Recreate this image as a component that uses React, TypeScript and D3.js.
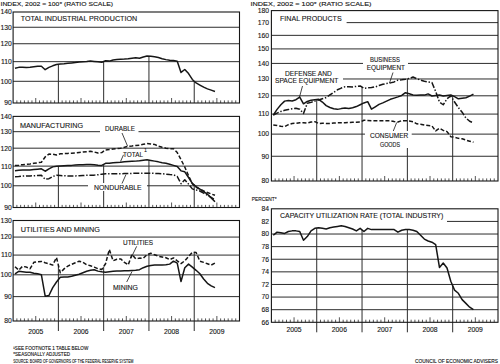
import React from 'react';
import * as d3 from 'd3';

// ---------- DATA (monthly, Jan 2005 – Jun 2009; one row per year) ----------
const years = ['2005', '2006', '2007', '2008', '2009'];

const totalIP = [
  106.5, 107, 107, 106.9, 107, 107.3, 107.6, 107.6, 105.8, 107, 107.8, 108.5,
  108.8, 108.9, 109.1, 109.3, 109.5, 109.8, 110, 110.1, 110.3, 110.1, 109.9, 109.7,
  110.5, 110.3, 110.9, 111.1, 111.3, 111.4, 111.6, 111.9, 112.1, 111.8, 112.5, 113.1,
  112.9, 112.6, 112.2, 111.6, 111.1, 110.8, 110.6, 110.2, 104.4, 105.9, 103.8, 100.9,
  99.2, 98.2, 97.2, 96.4, 95.8, 95.2,
];

const mfgDurable = [
  110.3, 110.5, 110.8, 111, 111.2, 111.5, 111.8, 112.1, 115, 116.6, 116.5, 116.1,
  116.8, 116.9, 117, 117.1, 117.2, 117.5, 117.8, 118, 118.2, 117.8, 117.2, 117.5,
  119, 119.2, 119.5, 119.7, 120, 120.5, 121.1, 121.3, 121.6, 121.8, 122.3, 122.7,
  122.5, 122.2, 121.2, 120.5, 120, 119.7, 119.7, 117.5, 113.5, 109.5, 105, 101,
  99.3, 98.4, 97.5, 96.8, 96.1, 95.5,
];

const mfgTotal = [
  107.6, 107.8, 107.9, 108, 108, 108.2, 108.4, 108.6, 107.3, 108.5, 109.6, 109.9,
  110.1, 110.2, 110.3, 110.4, 110.6, 110.7, 110.8, 110.9, 110.9, 110.7, 110.5, 110.4,
  111.5, 111.6, 111.8, 112, 112.1, 112.3, 112.5, 112.6, 112.7, 112.9, 113.2, 113.5,
  113.1, 112.7, 112.3, 111.8, 111.5, 111, 110.4, 109.8, 107.5, 107, 104.1, 101.2,
  99.6, 98.4, 97.2, 96, 94.3, 92.5,
];

const mfgNondurable = [
  104.5, 104.6, 104.8, 104.9, 104.9, 105, 105.1, 105.2, 103.2, 103.5, 104.6, 105.2,
  105.1, 105, 104.9, 104.9, 104.9, 105, 105.1, 105.2, 105.2, 105.3, 105.5, 105.8,
  106, 106, 106, 106, 106, 106.1, 106.1, 106.2, 106.2, 106.2, 106.3, 106.3,
  106.3, 106.2, 106.1, 106, 105.8, 105.6, 105.5, 104.6, 101, 103, 100.8, 98.5,
  98, 97.5, 96.5, 95.5, 94.5, 93.5,
];

const utilities = [
  104, 102.3, 104.2, 103.8, 103, 106.2, 106.5, 106.7, 106, 105.5, 104.8, 108.7,
  101, 102.9, 104.3, 105.2, 106, 106.8, 106.2, 105, 104.5, 103.8, 103, 102.6,
  105.5, 113, 107, 107.8, 108, 106.2, 104.9, 110.3, 108, 108.4, 108.3, 110.2,
  111, 110.2, 109.4, 109, 108.6, 107.6, 108.5, 107, 105.6, 107, 109.3, 111.5,
  111.4, 106.8, 106.2, 105.5, 104.8, 105.8,
];

const mining = [
  100.5, 101.7, 101.5, 101.3, 101.2, 100.8, 100.5, 100, 90.2, 90.5, 94, 96.6,
  98.8, 99, 99, 99.3, 99.8, 100.3, 101, 101.7, 102.2, 102.5, 101.8, 101.5,
  101.3, 101.5, 101.7, 101.9, 101.9, 102, 102, 102.1, 102.2, 102.5, 103.5, 104.2,
  104.6, 104.8, 104.9, 104.9, 105, 105.3, 106.8, 105.8, 96.8, 103.5, 105.3, 103.8,
  102.2, 100.5, 98, 96, 94.8, 94,
];

const defenseSpace = [
  109.5, 112.5, 115, 117, 117.3, 117.1, 117.8, 119.3, 115.5, 116.8, 117.5, 117.8,
  118, 116.5, 114.5, 113.5, 112.8, 112.5, 112.9, 113.2, 113, 113.4, 114, 115,
  116, 116.7, 112.6, 113.9, 115.2, 116, 117, 118, 118.7, 119.4, 120.2, 121.8,
  121.2, 120.5, 120.3, 120.5, 120.4, 121.1, 119.9, 120.2, 120.5, 119.9, 120.2, 120.5,
  119.5, 118.3, 118.6, 118.9, 119.8, 121,
];

const businessEquip = [
  109.5, 110.5, 111.4, 112, 112.4, 112.8, 113.1, 112.6, 110.3, 115.8, 116.3, 117,
  117.6, 118.3, 119, 120.5, 122, 123.5, 124.5, 125.3, 125.3, 125.2, 125.5, 125.8,
  124.3, 124.6, 124.8, 125.2, 126, 126.8, 127.2, 127.6, 128.2, 129.3, 129.5, 129.8,
  130.3, 131.2, 130.2, 129.3, 128.6, 128.2, 127.8, 122.5, 116.5, 115, 118.3, 120,
  116.5, 113.5, 111, 108, 106.3, 105.5,
];

const consumerGoods = [
  104.4, 104.2, 103.8, 103.6, 104.6, 105.2, 105.3, 105.5, 105.6, 105.4, 105.9, 106.1,
  105.2, 105.3, 105.2, 105.2, 105.4, 105.5, 105.6, 105.6, 105.7, 105.8, 105.8, 105.9,
  106.8, 106.7, 106.6, 106.6, 106.6, 106.6, 106.6, 106.6, 106.2, 105.9, 106.6, 106.6,
  106.4, 106.1, 105, 104.8, 104.4, 104.2, 104, 101.5, 102.8, 101.8, 101.2, 98.8,
  98.5, 98, 97.8, 97.2, 96.7, 96.2,
];

const capacityUtil = [
  79.8, 80.3, 80.2, 80.1, 80.4, 80.5, 80.5, 80.4, 79, 79.6, 80.5, 80.9,
  81, 80.9, 80.8, 81, 81.1, 81.2, 81.3, 81.2, 81, 80.8, 80.5, 80.9,
  80.4, 80.9, 80.7, 80.7, 80.7, 80.7, 80.7, 80.7, 80.7, 80.3, 80.6, 80.7,
  80.7, 80.6, 80.4, 79.8, 79.2, 78.9, 78.7, 78.3, 74.7, 75.4, 74.6, 72.5,
  71.1, 70.6, 69.6, 69, 68.4, 68,
];

const ticksIP = [90, 100, 110, 120, 130, 140];
const ticksUM = [80, 90, 100, 110, 120, 130];
const ticksFP = [80, 90, 100, 110, 120, 130, 140, 150, 160, 170, 180];
const ticksCU = [66, 68, 70, 72, 74, 76, 78, 80, 82, 84];

// ---------- STYLE ----------
const FONT = "'Liberation Sans', Arial, Helvetica, sans-serif";
const INK = '#161616';
const GRID = '#2c2c2c';
const DASH = '4 2';
const DASHDOT = '6 1.8 1.4 1.8';
const MONTHS = 60;

type Series = { values: number[]; dash?: string };
type PanelDef = {
  x: d3.ScaleLinear<number, number>;
  y: any;
  ticks: number[];
  series: Series[];
  guide: number[][];
  below?: boolean;
  labelX: number;
  boxes: { x: number; y: number; w: number; h: number }[];
};

const xLeft = d3.scaleLinear().domain([0, MONTHS]).range([13.1, 239.5]);
const xRight = d3.scaleLinear().domain([0, MONTHS]).range([271.4, 498]);

function T(props: {
  x: number; y: number; w?: number; size: number; children: React.ReactNode;
  anchor?: 'start' | 'middle' | 'end'; dy?: string;
}) {
  const { x, y, w, size, children, anchor, dy } = props;
  return (
    <text
      x={x}
      y={y}
      dy={dy}
      fontFamily={FONT}
      fontSize={size}
      fill={INK}
      stroke={INK}
      strokeWidth={0.12}
      textAnchor={anchor || 'start'}
      textLength={w}
      lengthAdjust={w ? 'spacingAndGlyphs' : undefined}
    >
      {children}
    </text>
  );
}

function Panel({ p }: { p: PanelDef }) {
  const [x0, x1] = p.x.range();
  const [yb, yt] = p.y.range();
  const line = d3
    .line<number>()
    .x((_, i) => p.x(i + 0.5))
    .y((d) => p.y(d));
  const inner = p.ticks.slice(1, -1);
  const monthTicks = d3.range(1, MONTHS).filter((m) => m % 12 !== 0);
  const yearBounds = [12, 24, 36, 48];
  return (
    <g>
      {inner.map((t) => (
        <line key={'g' + t} x1={x0} x2={x1} y1={p.y(t)} y2={p.y(t)} stroke={GRID} strokeWidth={1} />
      ))}
      {yearBounds.map((m) => {
        const v = d3.max(p.guide, (s) => (s[m - 1] + s[m]) / 2) as number;
        return (
          <line
            key={'yb' + m}
            x1={p.x(m)}
            x2={p.x(m)}
            y1={p.below ? yb + 10 : yb}
            y2={p.y(v)}
            stroke={GRID}
            strokeWidth={1}
          />
        );
      })}
      {p.boxes.map((b, i) => (
        <rect key={'b' + i} x={b.x} y={b.y} width={b.w} height={b.h} fill="#fff" />
      ))}
      {monthTicks.map((m) => (
        <line
          key={'t' + m}
          x1={p.x(m)}
          x2={p.x(m)}
          y1={yb}
          y2={yb - (m % 12 === 6 ? 5 : 2.6)}
          stroke={GRID}
          strokeWidth={0.8}
        />
      ))}
      {p.series.map((s, i) => (
        <path
          key={'s' + i}
          d={line(s.values) || ''}
          fill="none"
          stroke={INK}
          strokeWidth={1.5}
          strokeDasharray={s.dash}
          strokeLinejoin="round"
        />
      ))}
      <rect x={x0} y={yt} width={x1 - x0} height={yb - yt} fill="none" stroke={INK} strokeWidth={1.1} />
      {p.ticks.map((t) => (
        <T key={'l' + t} x={p.labelX} y={p.y(t)} dy="0.35em" size={6.8} anchor="end">
          {t}
        </T>
      ))}
    </g>
  );
}

export default function App() {
  const panels: PanelDef[] = [
    {
      x: xLeft,
      y: d3.scaleLog().domain([90, 140]).range([103, 12]),
      ticks: ticksIP,
      series: [{ values: totalIP }],
      guide: [totalIP],
      labelX: 11.8,
      boxes: [],
    },
    {
      x: xLeft,
      y: d3.scaleLog().domain([90, 140]).range([207.5, 116.4]),
      ticks: ticksIP,
      series: [
        { values: mfgDurable, dash: DASH },
        { values: mfgTotal },
        { values: mfgNondurable, dash: DASHDOT },
      ],
      guide: [mfgTotal],
      labelX: 11.8,
      boxes: [
        { x: 100, y: 126, w: 38.5, h: 8 },
        { x: 88, y: 183, w: 59, h: 8 },
      ],
    },
    {
      x: xLeft,
      y: d3.scaleLog().domain([80, 130]).range([321, 220.5]),
      ticks: ticksUM,
      series: [{ values: utilities, dash: DASH }, { values: mining }],
      guide: [utilities, mining],
      below: true,
      labelX: 11.8,
      boxes: [],
    },
    {
      x: xRight,
      y: d3.scaleLog().domain([80, 180]).range([181, 10.6]),
      ticks: ticksFP,
      series: [
        { values: defenseSpace },
        { values: businessEquip, dash: DASHDOT },
        { values: consumerGoods, dash: DASH },
      ],
      guide: [defenseSpace, businessEquip, consumerGoods],
      labelX: 269,
      boxes: [
        { x: 271.6, y: 13, w: 75, h: 12 },
        { x: 363, y: 55, w: 45, h: 16 },
        { x: 272, y: 70, w: 71, h: 15 },
        { x: 365, y: 131, w: 46.7, h: 17 },
      ],
    },
    {
      x: xRight,
      y: d3.scaleLinear().domain([66, 84]).range([322.3, 208.8]),
      ticks: ticksCU,
      series: [{ values: capacityUtil }],
      guide: [capacityUtil],
      below: true,
      labelX: 269,
      boxes: [{ x: 272, y: 211, w: 175, h: 12 }],
    },
  ];

  const leader = (a: [number, number], b: [number, number], k: string) => (
    <line key={k} x1={a[0]} y1={a[1]} x2={b[0]} y2={b[1]} stroke={INK} strokeWidth={0.8} />
  );

  return (
    <div style={{ position: 'absolute', left: 0, top: 0, width: 500, height: 364, background: '#fff' }}>
      <svg width={500} height={364} viewBox="0 0 500 364" style={{ display: 'block' }}>
        <rect x={0} y={0} width={500} height={364} fill="#fff" />
        {panels.map((p, i) => (
          <Panel key={i} p={p} />
        ))}

        {/* headers */}
        <T x={0.5} y={6.4} w={112.5} size={5.9}>INDEX, 2002 = 100* (RATIO SCALE)</T>
        <T x={250.5} y={6.4} w={121} size={5.9}>INDEX, 2002 = 100* (RATIO SCALE)</T>
        <T x={251.7} y={201} w={25} size={5.9}>PERCENT*</T>

        {/* panel titles */}
        <T x={20.7} y={20.7} w={116.5} size={7.6}>TOTAL INDUSTRIAL PRODUCTION</T>
        <T x={20} y={127.5} w={63} size={7.6}>MANUFACTURING</T>
        <T x={20.7} y={231.7} w={79.3} size={7.6}>UTILITIES AND MINING</T>
        <T x={280} y={20.7} w={61.7} size={7.6}>FINAL PRODUCTS</T>
        <T x={280} y={218.3} w={163.3} size={7.6}>CAPACITY UTILIZATION RATE (TOTAL INDUSTRY)</T>

        {/* series labels */}
        <T x={105} y={130.8} w={30} size={6.8}>DURABLE</T>
        <T x={123} y={156.7} w={20} size={6.8}>TOTAL</T>
        <T x={144.3} y={151.5} size={4.5}>1</T>
        <T x={94} y={190} w={47.7} size={6.8}>NONDURABLE</T>
        <T x={123} y={244.7} w={30} size={6.8}>UTILITIES</T>
        <T x={113} y={289.7} w={25} size={6.8}>MINING</T>
        <T x={370} y={61.7} w={30} size={6.8}>BUSINESS</T>
        <T x={366.7} y={70} w={38.3} size={6.8}>EQUIPMENT</T>
        <T x={285} y={76} w={46.7} size={6.8}>DEFENSE AND</T>
        <T x={275} y={83.3} w={63.3} size={6.8}>SPACE EQUIPMENT</T>
        <T x={370} y={138.3} w={38.3} size={6.8}>CONSUMER</T>
        <T x={380} y={146.7} w={20} size={6.8}>GOODS</T>

        {/* leader lines */}
        {leader([122, 133], [127.5, 146], 'ld')}
        {leader([123.5, 154.8], [120.5, 161.5], 'lt')}
        {leader([122, 183.5], [126, 174.5], 'ln')}
        {leader([136.7, 246.3], [131, 258], 'lu')}
        {leader([126.7, 282], [132, 271.5], 'lm')}
        {leader([393, 72.5], [389.5, 83], 'lb')}
        {leader([302.5, 86], [299.5, 97], 'lds')}
        {leader([393.3, 131], [396.7, 122.5], 'lc')}

        {/* year labels */}
        {years.map((yr, k) => (
          <T key={'yl' + yr} x={xLeft(k * 12 + 6)} y={334} size={6.8} anchor="middle">{yr}</T>
        ))}
        {years.map((yr, k) => (
          <T key={'yr' + yr} x={xRight(k * 12 + 6)} y={332} size={6.8} anchor="middle">{yr}</T>
        ))}

        {/* footnotes */}
        <T x={13.3} y={350} w={75} size={4.6}>¹SEE FOOTNOTE 1 TABLE BELOW</T>
        <T x={13.3} y={355.7} w={56.7} size={4.6}>*SEASONALLY ADJUSTED</T>
        <T x={13.3} y={362.7} w={120} size={4.6}>SOURCE: BOARD OF GOVERNORS OF THE FEDERAL RESERVE SYSTEM</T>
        <T x={415} y={362.7} w={83} size={4.6}>COUNCIL OF ECONOMIC ADVISERS</T>
      </svg>
    </div>
  );
}
